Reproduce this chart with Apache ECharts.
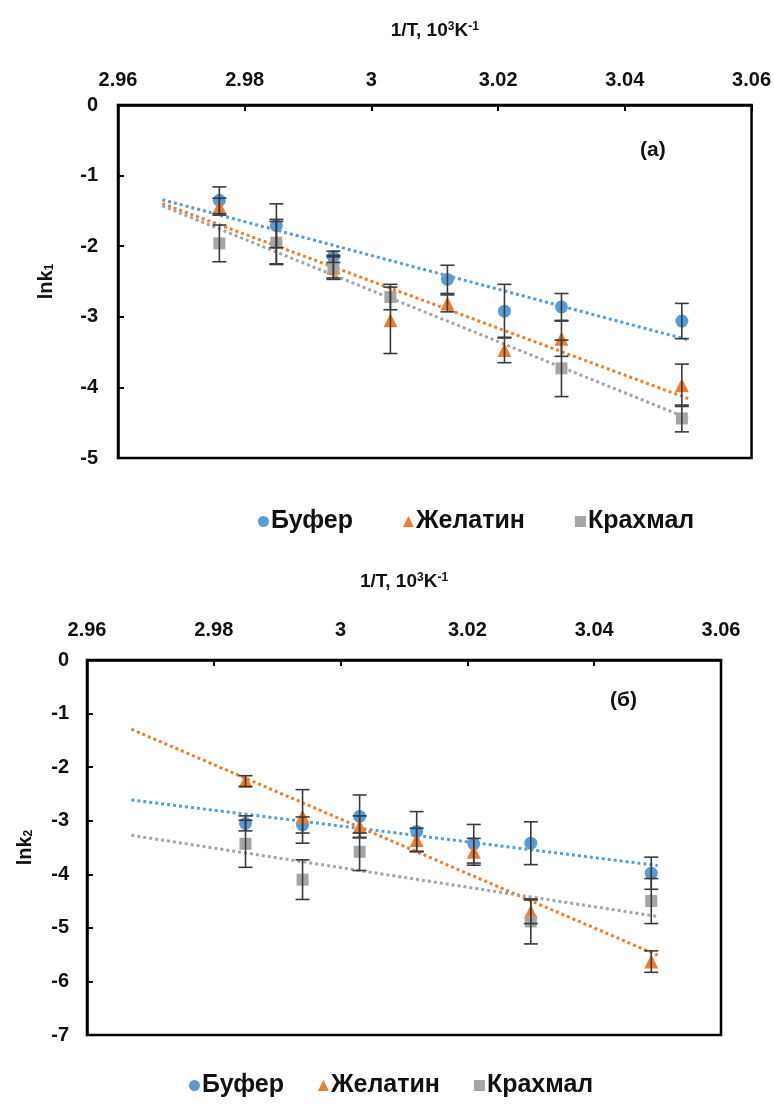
<!DOCTYPE html>
<html>
<head>
<meta charset="utf-8">
<script src="https://cdn.jsdelivr.net/npm/echarts@6/dist/echarts.min.js"></script>
<style>
  html, body { margin: 0; padding: 0; background: #ffffff; }
  #chart { width: 774px; height: 1104px; }
</style>
</head>
<body>
<div id="chart"></div>
<script>
// Reciprocal temperature, 10^3 K^-1 (shared by both panels)
const invT = [2.976, 2.985, 2.994, 3.003, 3.012, 3.021, 3.030, 3.049];

const seriesNames = ['Буфер', 'Желатин', 'Крахмал'];

// Panel (a): ln k1 and standard deviations
const k1Buffer     = [-1.35, -1.71, -2.15, null, -2.47, -2.92, -2.86, -3.06];
const k1BufferErr  = [0.19, 0.31, 0.08, null, 0.20, 0.38, 0.19, 0.25];
const k1Gelatin    = [-1.44, -1.94, -2.30, -3.05, -2.81, -3.47, -3.31, -3.97];
const k1GelatinErr = [0.12, 0.32, 0.15, 0.47, 0.12, 0.18, 0.25, 0.30];
const k1Starch     = [-1.96, -1.95, -2.30, -2.72, null, null, -3.73, -4.44];
const k1StarchErr  = [0.26, 0.30, 0.17, 0.18, null, null, 0.40, 0.19];

// Panel (б): ln k2 and standard deviations
const k2Buffer     = [null, -3.05, -3.08, -2.92, -3.20, -3.43, -3.42, -3.98];
const k2BufferErr  = [null, 0.14, 0.15, 0.40, 0.37, 0.36, 0.40, 0.30];
const k2Gelatin    = [null, -2.26, -2.92, -3.11, -3.36, -3.58, -4.70, -5.63];
const k2GelatinErr = [null, 0.10, 0.50, 0.20, 0.22, 0.25, 0.22, 0.20];
const k2Starch     = [null, -3.43, -4.10, -3.58, null, null, -4.88, -4.50];
const k2StarchErr  = [null, 0.44, 0.37, 0.35, null, null, 0.42, 0.42];

// Span over which the linear fits are drawn
const trendSpan = [2.967, 3.050];

const colors = ['#5B9BD5', '#ED7D31', '#A5A5A5'];
const symbols = ['circle', 'triangle', 'rect'];
const symbolSizes = [13, 14, 12];
const FONT = "'Liberation Sans', Arial, sans-serif";

function points(ys) {
  const out = [];
  ys.forEach((y, i) => { if (y !== null) out.push([invT[i], y]); });
  return out;
}
function errPoints(ys, es) {
  const out = [];
  ys.forEach((y, i) => { if (y !== null) out.push([invT[i], y, es[i]]); });
  return out;
}
// Least-squares line through the measured points
function linearFit(ys) {
  const p = points(ys);
  const n = p.length;
  const mx = p.reduce((s, q) => s + q[0], 0) / n;
  const my = p.reduce((s, q) => s + q[1], 0) / n;
  let sxy = 0, sxx = 0;
  p.forEach(q => { sxy += (q[0] - mx) * (q[1] - my); sxx += (q[0] - mx) ** 2; });
  const b = sxy / sxx, a = my - b * mx;
  return trendSpan.map(x => [x, a + b * x]);
}

function renderErrorBar(params, api) {
  const x = api.value(0), y = api.value(1), e = api.value(2);
  const hi = api.coord([x, y + e]);
  const lo = api.coord([x, y - e]);
  const w = 7;
  const style = { stroke: '#3a3a3a', lineWidth: 1.6, fill: null };
  return {
    type: 'group',
    children: [
      { type: 'line', shape: { x1: hi[0], y1: hi[1], x2: lo[0], y2: lo[1] }, style },
      { type: 'line', shape: { x1: hi[0] - w, y1: hi[1], x2: hi[0] + w, y2: hi[1] }, style },
      { type: 'line', shape: { x1: lo[0] - w, y1: lo[1], x2: lo[0] + w, y2: lo[1] }, style }
    ]
  };
}

function panelSeries(gridIdx, groups) {
  const list = [];
  groups.forEach((g, k) => {
    list.push({
      name: 'fit-' + gridIdx + '-' + k, type: 'line',
      xAxisIndex: gridIdx, yAxisIndex: gridIdx,
      data: linearFit(g.y), symbol: 'none', silent: true, z: 2,
      lineStyle: { color: colors[k], width: 3, type: [3, 3] }
    });
  });
  groups.forEach((g, k) => {
    list.push({
      name: seriesNames[k], type: 'scatter',
      xAxisIndex: gridIdx, yAxisIndex: gridIdx,
      data: points(g.y), symbol: symbols[k], symbolSize: symbolSizes[k], z: 3,
      itemStyle: { color: colors[k], opacity: 1 }
    });
  });
  groups.forEach((g, k) => {
    list.push({
      name: 'err-' + gridIdx + '-' + k, type: 'custom',
      xAxisIndex: gridIdx, yAxisIndex: gridIdx,
      data: errPoints(g.y, g.e), renderItem: renderErrorBar, z: 4, silent: true
    });
  });
  return list;
}

function xAxisFor(gridIdx, labelMargin, nameGap) {
  return {
    gridIndex: gridIdx, type: 'value', position: 'top',
    min: 2.96, max: 3.06, interval: 0.02,
    name: '1/T, 10{sup|3}K{sup|-1}', nameLocation: 'middle', nameGap: nameGap,
    nameTextStyle: {
      fontFamily: FONT, fontWeight: 'bold', fontSize: 19, color: '#111',
      rich: {
        sup: { fontFamily: FONT, fontWeight: 'bold', fontSize: 12, color: '#111', verticalAlign: 'top', padding: [0, 0, 8, 0] }
      }
    },
    axisLine: { show: true, onZero: false, lineStyle: { color: '#000', width: 2.5 } },
    axisTick: { show: true, inside: true, length: 6, lineStyle: { color: '#000', width: 2 } },
    axisLabel: {
      margin: labelMargin, fontFamily: FONT, fontWeight: 'bold', fontSize: 20, color: '#111',
      formatter: v => String(+v.toFixed(2))
    },
    splitLine: { show: false }
  };
}

function yAxisFor(gridIdx, min, sub, labelMargin, nameGap) {
  return {
    gridIndex: gridIdx, type: 'value', position: 'left',
    min: min, max: 0, interval: 1,
    name: 'lnk{sub|' + sub + '}', nameLocation: 'middle', nameGap: nameGap, nameRotate: 90,
    nameTextStyle: {
      fontFamily: FONT, fontWeight: 'bold', fontSize: 20, color: '#111',
      rich: {
        sub: { fontFamily: FONT, fontWeight: 'bold', fontSize: 12, color: '#111', verticalAlign: 'bottom', padding: [8, 0, 0, 0] }
      }
    },
    axisLine: { show: true, onZero: false, lineStyle: { color: '#000', width: 2.5 } },
    axisTick: { show: true, inside: true, length: 6, lineStyle: { color: '#000', width: 2 } },
    axisLabel: { margin: labelMargin, fontFamily: FONT, fontWeight: 'bold', fontSize: 20, color: '#111' },
    splitLine: { show: false }
  };
}

function legendAt(left, top, gap) {
  return {
    left: left, top: top, itemGap: gap, itemWidth: 11, itemHeight: 11,
    textStyle: { fontFamily: FONT, fontWeight: 'bold', fontSize: 25, color: '#111', padding: [0, 0, 0, -3] },
    data: seriesNames.map((n, k) => ({ name: n, icon: symbols[k] })),
    selectedMode: false
  };
}

const chart = echarts.init(document.getElementById('chart'), null, { renderer: 'canvas' });
chart.setOption({
  backgroundColor: '#ffffff',
  animation: false,
  grid: [
    { left: 118, right: 21, top: 105, height: 353, show: true, borderColor: '#000', borderWidth: 2.5, backgroundColor: 'transparent' },
    { left: 87, right: 53, top: 660, height: 375, show: true, borderColor: '#000', borderWidth: 2.5, backgroundColor: 'transparent' }
  ],
  xAxis: [xAxisFor(0, 15, 64), xAxisFor(1, 20, 68)],
  yAxis: [yAxisFor(0, -5, '1', 20, 62), yAxisFor(1, -7, '2', 18, 52)],
  legend: [legendAt(253, 504, 50), legendAt(184, 1068, 34)],
  graphic: [
    { type: 'text', left: 640, top: 140, style: { text: '(a)', fontFamily: FONT, fontWeight: 'bold', fontSize: 21, fill: '#111' } },
    { type: 'text', left: 610, top: 690, style: { text: '(б)', fontFamily: FONT, fontWeight: 'bold', fontSize: 21, fill: '#111' } }
  ],
  series: [
    ...panelSeries(0, [
      { y: k1Buffer, e: k1BufferErr },
      { y: k1Gelatin, e: k1GelatinErr },
      { y: k1Starch, e: k1StarchErr }
    ]),
    ...panelSeries(1, [
      { y: k2Buffer, e: k2BufferErr },
      { y: k2Gelatin, e: k2GelatinErr },
      { y: k2Starch, e: k2StarchErr }
    ])
  ]
});
</script>
</body>
</html>
